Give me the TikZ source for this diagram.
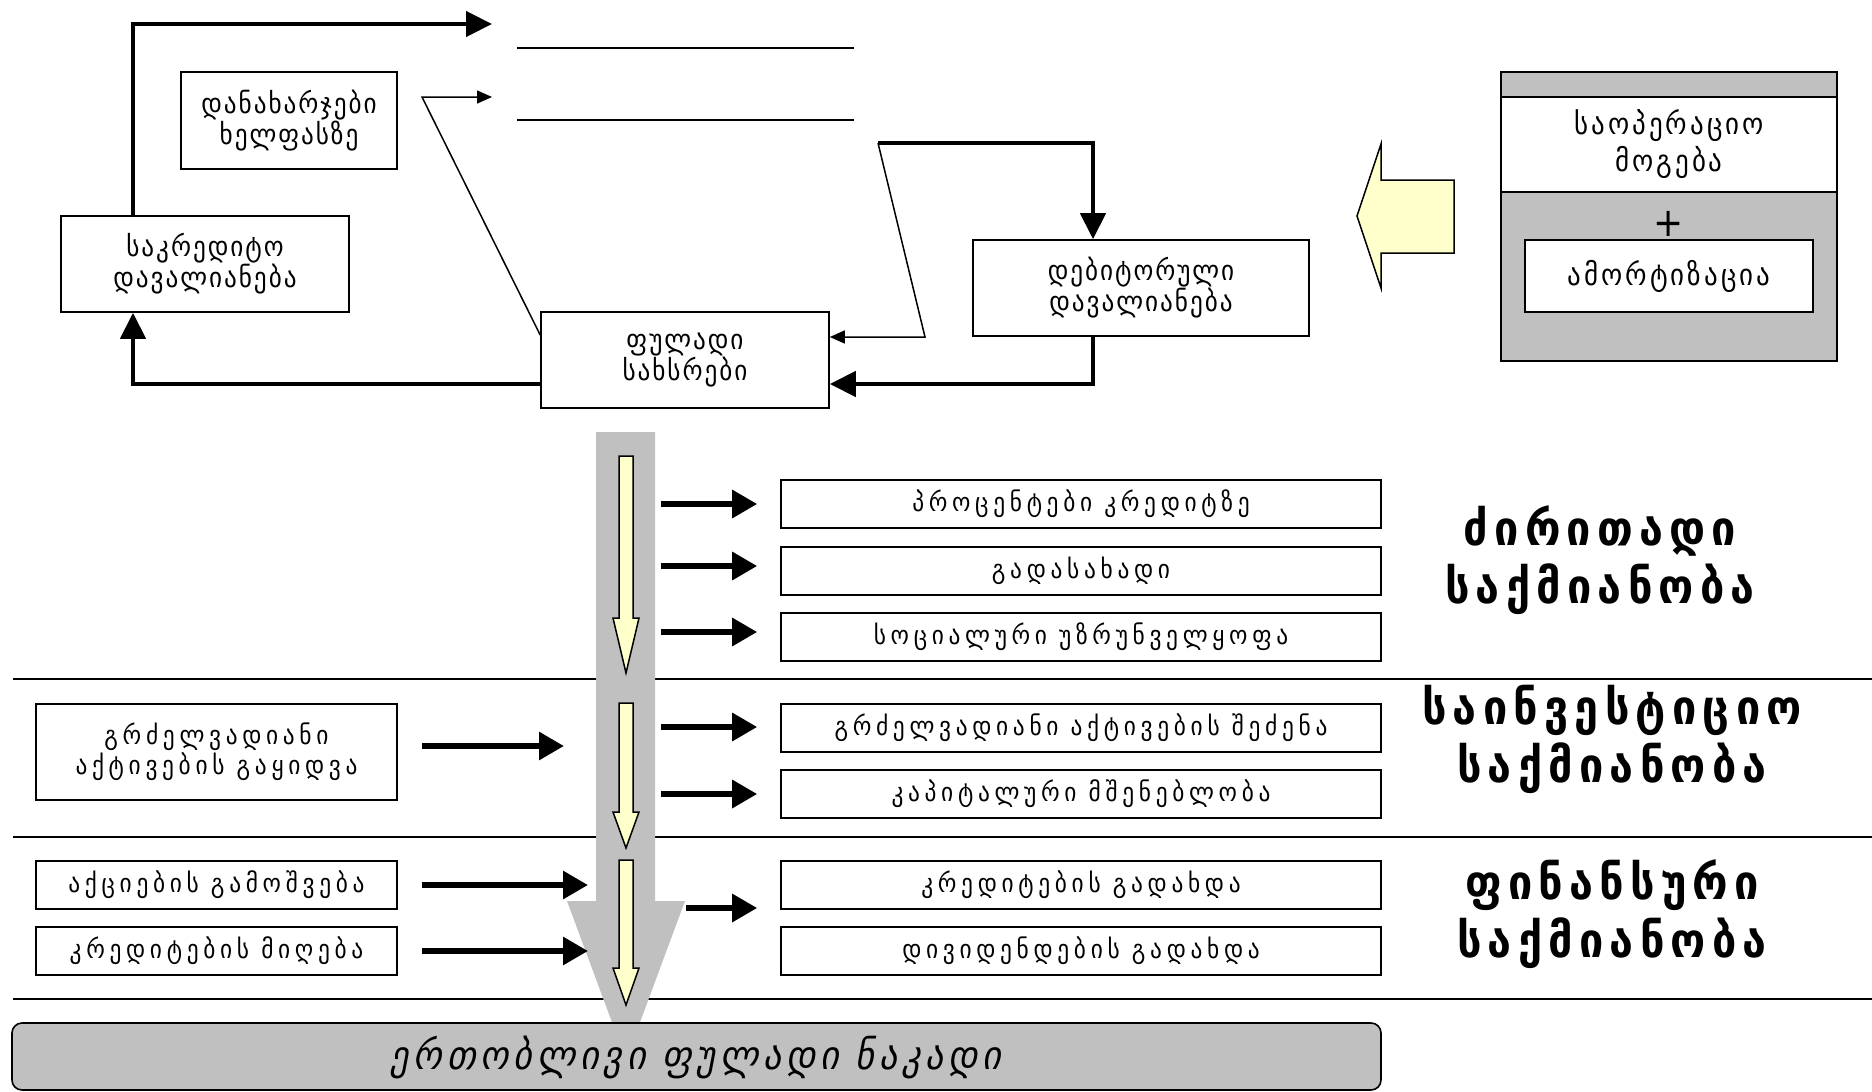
\documentclass[tikz,border=0pt]{standalone}
\usepackage{fontspec}
\setmainfont{DejaVu Sans Condensed}
\usetikzlibrary{arrows.meta}
\definecolor{panelgray}{HTML}{C0C0C0}
\definecolor{paleyellow}{HTML}{FFFFCC}
\newcommand{\boxfont}{\fontsize{28}{31}\selectfont\addfontfeature{LetterSpace=7}}
\newcommand{\capfont}{\fontsize{26}{30}\selectfont\addfontfeature{LetterSpace=18}}
\begin{document}
\begin{tikzpicture}[x=1pt,y=-1pt,
  box/.style={draw=black, line width=1.6pt, fill=white, inner sep=0pt, align=center,
    font=\boxfont},
  capbox/.style={box, minimum width=600pt, minimum height=48pt, font=\capfont},
  leftbox/.style={box, minimum width=361pt, font=\capfont},
  thk/.style={line width=4.5pt, -{Triangle[length=26pt,width=25pt]}},
  thn/.style={line width=1.5pt, -{Triangle[length=15pt,width=13pt]}},
  bigarr/.style={line width=6pt, -{Triangle[length=25pt,width=27pt]}},
  sep/.style={line width=2pt},
  yarrow/.style={draw=black, line width=1.5pt, fill=paleyellow},
  biglabel/.style={font=\fontsize{48}{58}\selectfont\bfseries\addfontfeature{LetterSpace=13}, align=center}
]
\useasboundingbox (0,0) rectangle (1872,1092);

% ---------- upper part ----------
\node[box, minimum width=216pt, minimum height=97pt] (dan) at (289,120.5) {დანახარჯები\\ხელფასზე};
\node[box, minimum width=288pt, minimum height=96pt] (sak) at (205,264) {საკრედიტო\\დავალიანება};
\node[box, minimum width=288pt, minimum height=96pt] (ful) at (685,360) {ფულადი\\სახსრები};
\node[box, minimum width=336pt, minimum height=96pt] (deb) at (1141,288) {დებიტორული\\დავალიანება};

\draw[line width=1.5pt] (517,48) -- (854,48);
\draw[line width=1.5pt] (517,120) -- (854,120);

\coordinate (c1) at (133,24);
\coordinate (t1) at (492,24);
\coordinate (b1) at (0,384);
\coordinate (yA) at (0,335);
\coordinate (d2) at (422,97);
\coordinate (t2) at (492,97);
\coordinate (k1) at (878,143);
\coordinate (k2) at (1093,0);
\coordinate (k3) at (925,337);

\draw[thk] (sak.north -| c1) |- (t1);
\draw[thk] (ful.west |- b1) -| (sak.south -| c1);
\draw[thn] (ful.west |- yA) -- (d2) -- (t2);
\draw[thk] (k1) -| (deb.north -| k2);
\draw[thn] (k1) -- (k3) -- (ful.east |- k3);
\draw[thk] (deb.south -| k2) |- (ful.east |- b1);

% right panel
\draw[line width=1.5pt, fill=panelgray] (1501,72) rectangle (1837,361);
\draw[line width=1.5pt, fill=white] (1501,97) rectangle (1837,192);
\node[align=center, font=\fontsize{30}{37}\selectfont\addfontfeature{LetterSpace=10}] (oper) at (1669,144.5) {საოპერაციო\\მოგება};
\node[font=\fontsize{40}{40}\selectfont] (plus) at (1669,224) {+};
\node[box, minimum width=288pt, minimum height=72pt, font=\fontsize{30}{34}\selectfont\addfontfeature{LetterSpace=10}] (amo) at (1669,276) {ამორტიზაცია};

\draw[yarrow] (1357,216) -- (1381,144) -- (1381,180) -- (1454,180) -- (1454,253)
  -- (1381,253) -- (1381,288) -- cycle;

% ---------- separators ----------
\draw[sep] (13,679) -- (1872,679);
\draw[sep] (13,837) -- (1872,837);
\draw[sep] (13,999) -- (1872,999);

% big gray arrow
\fill[panelgray] (596,432) -- (655,432) -- (655,901) -- (685,901) -- (626,1060)
  -- (567,901) -- (596,901) -- cycle;

% yellow arrows
\draw[yarrow] (619,456) -- (633,456) -- (633,618) -- (639,618) -- (626,673) -- (613,618) -- (619,618) -- cycle;
\draw[yarrow] (619,703) -- (633,703) -- (633,812) -- (639,812) -- (626,848) -- (613,812) -- (619,812) -- cycle;
\draw[yarrow] (619,860) -- (633,860) -- (633,968) -- (639,968) -- (626,1005) -- (613,968) -- (619,968) -- cycle;

% right-hand boxes
\node[capbox] (p1) at (1081,504) {პროცენტები კრედიტზე};
\node[capbox] (p2) at (1081,571) {გადასახადი};
\node[capbox] (p3) at (1081,637) {სოციალური უზრუნველყოფა};
\node[capbox] (i1) at (1081,728) {გრძელვადიანი აქტივების შეძენა};
\node[capbox] (i2) at (1081,794) {კაპიტალური მშენებლობა};
\node[capbox] (f1) at (1081,885) {კრედიტების გადახდა};
\node[capbox] (f2) at (1081,951) {დივიდენდების გადახდა};

% left-hand boxes
\node[leftbox, minimum height=96pt] (g1) at (216.5,752) {გრძელვადიანი\\აქტივების გაყიდვა};
\node[leftbox, minimum height=48pt] (l1) at (216.5,885) {აქციების გამოშვება};
\node[leftbox, minimum height=48pt] (l2) at (216.5,951) {კრედიტების მიღება};

% arrows out of the flow
\coordinate (a1) at (661,504);
\coordinate (a2) at (661,566);
\coordinate (a3) at (661,632);
\coordinate (a4) at (661,727);
\coordinate (a5) at (661,794);
\coordinate (a6) at (686,908);
\foreach \a/\b in {a1/p1,a2/p2,a3/p3,a4/i1,a5/i2,a6/f1}
  \draw[bigarr, shorten >=23pt] (\a) -- (\a -| \b.west);

% arrows into the flow
\coordinate (e1) at (564,746);
\coordinate (e2) at (588,885);
\coordinate (e3) at (588,951);
\draw[bigarr, shorten <=24pt] (g1.east |- e1) -- (e1);
\draw[bigarr, shorten <=24pt] (l1.east |- e2) -- (e2);
\draw[bigarr, shorten <=24pt] (l2.east |- e3) -- (e3);

% section labels
\node[biglabel] (s1) at (1600,560) {ძირითადი\\საქმიანობა};
\node[biglabel] (s2) at (1612,739) {საინვესტიციო\\საქმიანობა};
\node[biglabel] (s3) at (1612,914) {ფინანსური\\საქმიანობა};

% total
\draw[line width=1.6pt, fill=panelgray, rounded corners=10pt] (12,1023) rectangle (1381,1090);
\node[font=\fontsize{40}{42}\selectfont\itshape\addfontfeature{LetterSpace=12}] (tot) at (696,1057) {ერთობლივი ფულადი ნაკადი};
\end{tikzpicture}
\end{document}
